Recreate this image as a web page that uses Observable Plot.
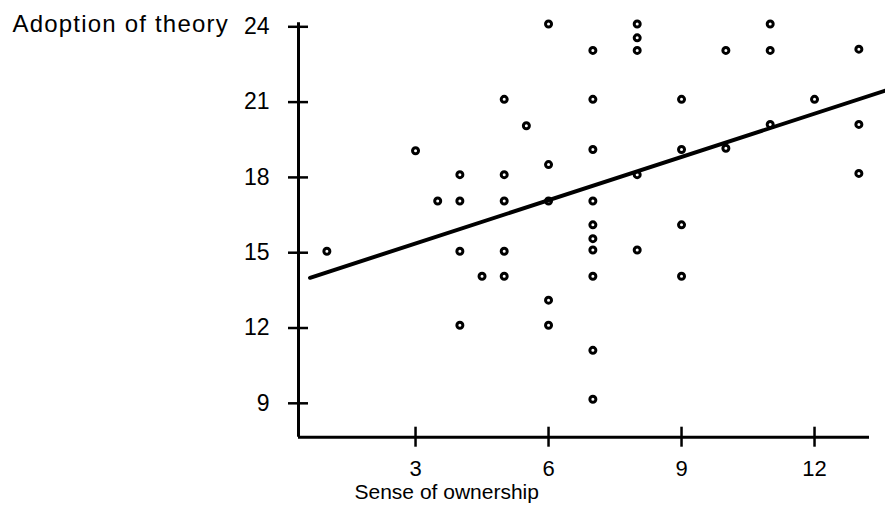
<!DOCTYPE html>
<html>
<head>
<meta charset="utf-8">
<script src="https://cdn.jsdelivr.net/npm/d3@7"></script>
<script src="https://cdn.jsdelivr.net/npm/@observablehq/plot@0.6"></script>
<style>
  html, body { margin: 0; padding: 0; background: #fff; }
  #chart svg { display: block; }
</style>
</head>
<body>
<div id="chart"></div>
<script>
// Sense of ownership (x) vs. Adoption of theory (y)
const ownership = [6, 8, 8, 8, 7, 10, 11, 11, 13,
  5, 7, 9, 12,
  5.5, 11, 13,
  3, 7, 9, 10,
  6,
  4, 5, 8, 13,
  3.5, 4, 5, 6, 7,
  7, 9,
  7,
  1, 4, 5, 7, 8,
  4.5, 5, 7, 9,
  6,
  4, 6,
  7,
  7];
const adoption = [24.15, 24.15, 23.6, 23.1, 23.1, 23.1, 24.15, 23.1, 23.15,
  21.15, 21.15, 21.15, 21.15,
  20.1, 20.15, 20.15,
  19.1, 19.15, 19.15, 19.2,
  18.55,
  18.15, 18.15, 18.15, 18.2,
  17.1, 17.1, 17.1, 17.1, 17.1,
  16.15, 16.15,
  15.6,
  15.1, 15.1, 15.1, 15.15, 15.15,
  14.1, 14.1, 14.1, 14.1,
  13.15,
  12.15, 12.15,
  11.15,
  9.2];
// fitted line end points
const fitX = [0.62, 13.6];
const fitY = [14.04, 21.5];
const xTicks = [3, 6, 9, 12];
const yTicks = [9, 12, 15, 18, 21, 24];
const xDomain = [0.36, 13.24];
const yDomain = [7.69, 24];
const xLabel = "Sense of ownership";
const yLabel = "Adoption of theory";

const points = ownership.map((x, i) => ({x, y: adoption[i]}));
const fit = fitX.map((x, i) => ({x, y: fitY[i]}));

const font = "Liberation Sans, Arial, Helvetica, sans-serif";

const chart = Plot.plot({
  width: 885,
  height: 517,
  marginLeft: 298,
  marginRight: 16,
  marginTop: 27.3,
  marginBottom: 80.3,
  style: {fontFamily: font, fontSize: "22px", color: "#000", background: "#fff"},
  x: {domain: xDomain},
  y: {domain: yDomain},
  marks: [
    Plot.ruleY([yDomain[0]], {stroke: "#000", strokeWidth: 3}),
    Plot.ruleX([xDomain[0]], {stroke: "#000", strokeWidth: 3, insetTop: -5}),
    Plot.axisY({ticks: yTicks, tickSize: 20, dx: 10, tickPadding: 19, strokeWidth: 2.5,
      fontSize: 23, dy: -1, tickFormat: d => String(d), label: null}),
    Plot.axisX({ticks: xTicks, tickSize: 20, dy: -10, tickPadding: 13, strokeWidth: 2.5,
      fontSize: 22, tickFormat: d => String(d), label: null}),
    Plot.dot(points, {x: "x", y: "y", r: 3, stroke: "#000", strokeWidth: 3, fill: "#fff"}),
    Plot.line(fit, {x: "x", y: "y", stroke: "#000", strokeWidth: 4}),
    Plot.text([yLabel], {frameAnchor: "top-left", dx: -286, dy: -3, textAnchor: "start",
      lineAnchor: "middle", fontSize: 24, fill: "#000"}),
    Plot.text([xLabel], {frameAnchor: "bottom-left", dx: 56, dy: 62, textAnchor: "start",
      lineAnchor: "bottom", fontSize: 21, fill: "#000"})
  ]
});
d3.select(chart).selectAll("text")
  .filter(function() { return this.textContent === yLabel; })
  .style("letter-spacing", "1.2px");
document.getElementById("chart").appendChild(chart);
</script>
</body>
</html>
